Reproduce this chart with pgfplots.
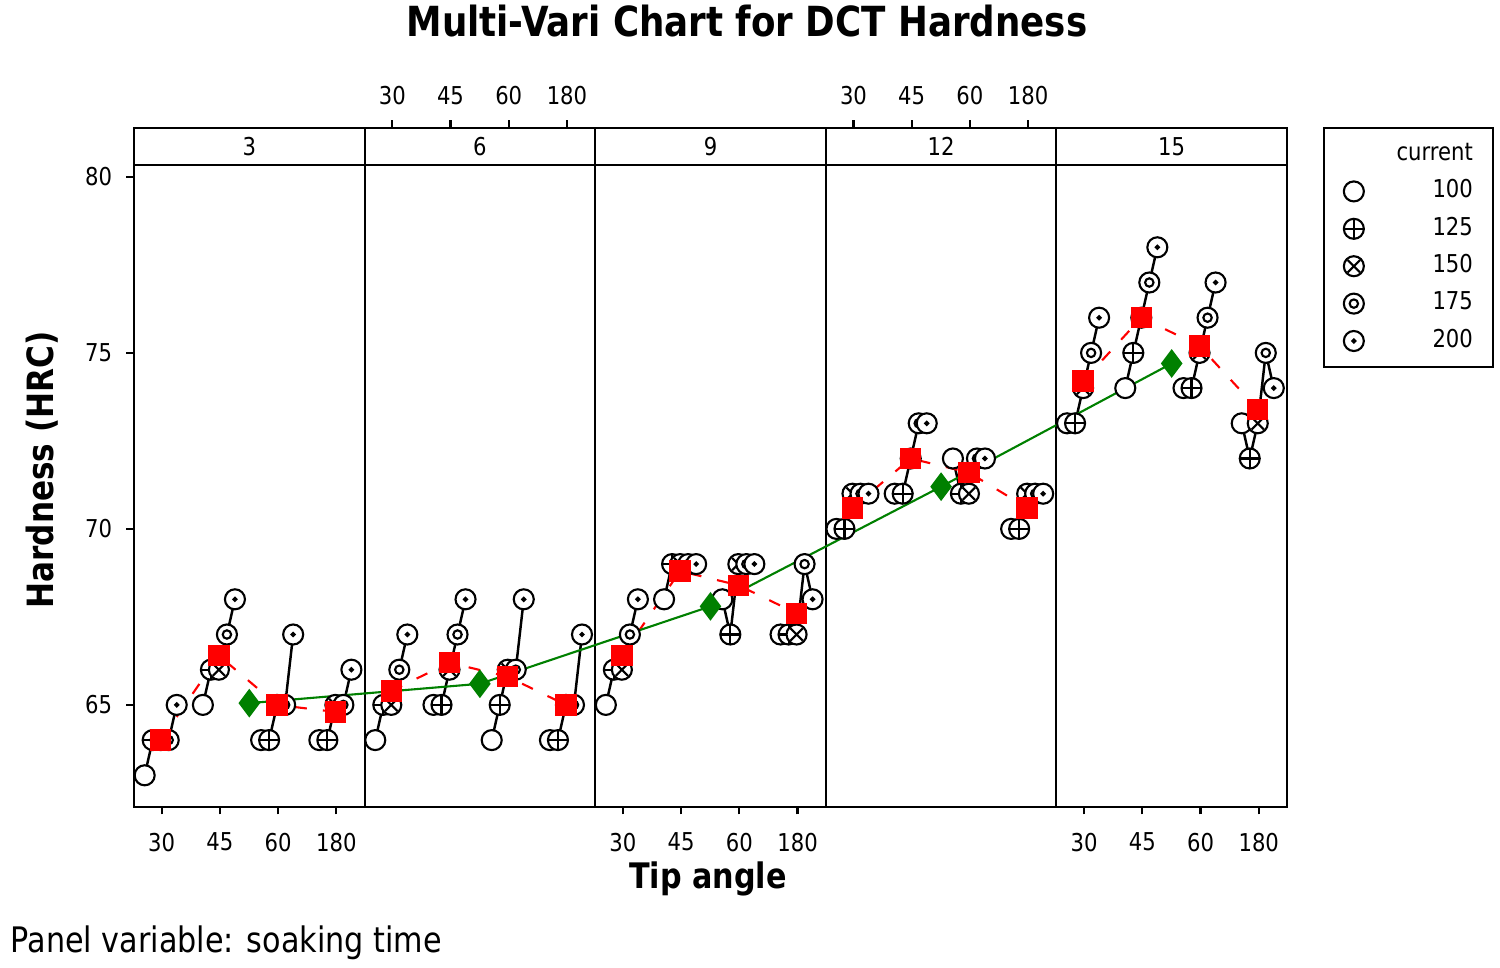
\documentclass[border=0pt]{standalone}
\usepackage{fontspec}
\setmainfont{DejaVu Sans}[FakeStretch=0.86]
\usepackage{pgfplots}
\usepackage{pgfplotstable}
\pgfplotsset{compat=1.18}

\pgfdeclareplotmark{m100}{%
  \pgfpathcircle{\pgfpointorigin}{\pgfplotmarksize}\pgfusepathqfillstroke}
\pgfdeclareplotmark{m125}{%
  \pgfpathcircle{\pgfpointorigin}{\pgfplotmarksize}\pgfusepathqfillstroke
  \pgfpathmoveto{\pgfqpoint{-\pgfplotmarksize}{0pt}}\pgfpathlineto{\pgfqpoint{\pgfplotmarksize}{0pt}}%
  \pgfpathmoveto{\pgfqpoint{0pt}{-\pgfplotmarksize}}\pgfpathlineto{\pgfqpoint{0pt}{\pgfplotmarksize}}%
  \pgfusepathqstroke}
\pgfdeclareplotmark{m150}{%
  \pgfpathcircle{\pgfpointorigin}{\pgfplotmarksize}\pgfusepathqfillstroke
  \pgfpathmoveto{\pgfqpoint{-0.62\pgfplotmarksize}{-0.62\pgfplotmarksize}}\pgfpathlineto{\pgfqpoint{0.62\pgfplotmarksize}{0.62\pgfplotmarksize}}%
  \pgfpathmoveto{\pgfqpoint{-0.62\pgfplotmarksize}{0.62\pgfplotmarksize}}\pgfpathlineto{\pgfqpoint{0.62\pgfplotmarksize}{-0.62\pgfplotmarksize}}%
  \pgfusepathqstroke}
\pgfdeclareplotmark{m175}{%
  \pgfpathcircle{\pgfpointorigin}{\pgfplotmarksize}\pgfusepathqfillstroke
  \pgfpathcircle{\pgfpointorigin}{0.42\pgfplotmarksize}\pgfusepathqstroke}
\pgfdeclareplotmark{m200}{%
  \pgfpathcircle{\pgfpointorigin}{\pgfplotmarksize}\pgfusepathqfillstroke
  \pgfpathcircle{\pgfpointorigin}{0.15\pgfplotmarksize}\pgfusepathqstroke}

% long table: panel p (soaking time 3,6,9,12,15 -> 0..4), tip t (30,45,60,180 -> 0..3), current c, hardness y
\pgfplotstableread{
p t c y
0 0 100 63
0 0 125 64
0 0 150 64
0 0 175 64
0 0 200 65
0 0 0 nan
0 1 100 65
0 1 125 66
0 1 150 66
0 1 175 67
0 1 200 68
0 1 0 nan
0 2 100 64
0 2 125 64
0 2 150 65
0 2 175 65
0 2 200 67
0 2 0 nan
0 3 100 64
0 3 125 64
0 3 150 65
0 3 175 65
0 3 200 66
0 3 0 nan
1 0 100 64
1 0 125 65
1 0 150 65
1 0 175 66
1 0 200 67
1 0 0 nan
1 1 100 65
1 1 125 65
1 1 150 66
1 1 175 67
1 1 200 68
1 1 0 nan
1 2 100 64
1 2 125 65
1 2 150 66
1 2 175 66
1 2 200 68
1 2 0 nan
1 3 100 64
1 3 125 64
1 3 150 65
1 3 175 65
1 3 200 67
1 3 0 nan
2 0 100 65
2 0 125 66
2 0 150 66
2 0 175 67
2 0 200 68
2 0 0 nan
2 1 100 68
2 1 125 69
2 1 150 69
2 1 175 69
2 1 200 69
2 1 0 nan
2 2 100 68
2 2 125 67
2 2 150 69
2 2 175 69
2 2 200 69
2 2 0 nan
2 3 100 67
2 3 125 67
2 3 150 67
2 3 175 69
2 3 200 68
2 3 0 nan
3 0 100 70
3 0 125 70
3 0 150 71
3 0 175 71
3 0 200 71
3 0 0 nan
3 1 100 71
3 1 125 71
3 1 150 72
3 1 175 73
3 1 200 73
3 1 0 nan
3 2 100 72
3 2 125 71
3 2 150 71
3 2 175 72
3 2 200 72
3 2 0 nan
3 3 100 70
3 3 125 70
3 3 150 71
3 3 175 71
3 3 200 71
3 3 0 nan
4 0 100 73
4 0 125 73
4 0 150 74
4 0 175 75
4 0 200 76
4 0 0 nan
4 1 100 74
4 1 125 75
4 1 150 76
4 1 175 77
4 1 200 78
4 1 0 nan
4 2 100 74
4 2 125 74
4 2 150 75
4 2 175 76
4 2 200 77
4 2 0 nan
4 3 100 73
4 3 125 72
4 3 150 73
4 3 175 75
4 3 200 74
}\hardness

% means per tip angle within each panel
\pgfplotstableread{
p t m
0 0 64.0
0 1 66.4
0 2 65.0
0 3 64.8
0 3 nan
1 0 65.4
1 1 66.2
1 2 65.8
1 3 65.0
1 3 nan
2 0 66.4
2 1 68.8
2 2 68.4
2 3 67.6
2 3 nan
3 0 70.6
3 1 72.0
3 2 71.6
3 3 70.6
3 3 nan
4 0 74.2
4 1 76.0
4 2 75.2
4 3 73.4
}\tipmeans

% panel means
\pgfplotstableread{
p m
0 65.05
1 65.6
2 67.8
3 71.2
4 74.7
}\panelmeans

\definecolor{mred}{RGB}{255,0,0}
\definecolor{mgreen}{RGB}{0,128,0}

\newcommand{\tfont}{\fontsize{7}{8}\selectfont}
\pgfplotsset{
  curmarks/.style={only marks, mark options={fill=white, draw=black, line width=0.6pt},
    restrict expr to domain={\thisrow{c}}{#1:#1}},
}

\begin{document}
\begin{tikzpicture}
\useasboundingbox (-1.34,-1.61) rectangle (13.66,8.07);

\begin{axis}[
  at={(0,0)}, anchor=south west,
  scale only axis, width=11.53cm, height=6.79cm,
  xmin=0, xmax=20, ymin=62.1, ymax=81.39,
  axis line style={line width=0.6pt},
  ytick={65,70,75,80},
  xtick={0.48,1.49,2.50,3.51,8.48,9.49,10.50,11.51,16.48,17.49,18.50,19.51},
  xticklabels={30,45,60,180,30,45,60,180,30,45,60,180},
  xtick pos=left, ytick pos=left,
  tick align=outside,
  major tick length=0.075cm,
  tick style={black, line width=0.6pt},
  ticklabel style={font=\tfont},
  /pgf/number format/assume math mode=true,
  xticklabel style={yshift=-0.06cm},
  yticklabel style={xshift=-0.02cm},
  legend style={at={(1.031,1.0015)}, anchor=north west, draw=black,
    line width=0.6pt, inner xsep=0.2cm, inner ysep=0.073cm, row sep=0pt,
    font=\tfont, nodes={inner sep=0pt, minimum height=0.374cm},
    /tikz/every even column/.append style={text width=0.87cm, align=right}},
  legend cell align=right,
  legend image code/.code={\path (0,0) (0.4cm,0); \draw[#1] plot coordinates {(0.09cm,0cm)};},
  mark size=2.85pt,
]
% panel dividers and strip
\draw[line width=0.6pt] (axis cs:4,62.1) -- (axis cs:4,81.39);
\draw[line width=0.6pt] (axis cs:8,62.1) -- (axis cs:8,81.39);
\draw[line width=0.6pt] (axis cs:12,62.1) -- (axis cs:12,81.39);
\draw[line width=0.6pt] (axis cs:16,62.1) -- (axis cs:16,81.39);
\draw[line width=0.6pt] (axis cs:0,80.34) -- (axis cs:20,80.34);
\node[font=\tfont] at (axis cs:2,80.87) {3};
\node[font=\tfont] at (axis cs:6,80.87) {6};
\node[font=\tfont] at (axis cs:10,80.87) {9};
\node[font=\tfont] at (axis cs:14,80.87) {12};
\node[font=\tfont] at (axis cs:18,80.87) {15};

% black lines connecting the current levels
\addplot[black, line width=0.7pt, mark=none, unbounded coords=jump, forget plot]
  table[x expr=4*\thisrow{p}+0.48+1.01*\thisrow{t}-0.295+0.00556*(\thisrow{c}-100), y=y] {\hardness};

\addlegendimage{empty legend}
\addlegendentry{current}

\addplot[curmarks=100, mark=m100]
  table[x expr=4*\thisrow{p}+0.48+1.01*\thisrow{t}-0.295+0.00556*(\thisrow{c}-100), y=y] {\hardness};
\addlegendentry{100}
\addplot[curmarks=125, mark=m125]
  table[x expr=4*\thisrow{p}+0.48+1.01*\thisrow{t}-0.295+0.00556*(\thisrow{c}-100), y=y] {\hardness};
\addlegendentry{125}
\addplot[curmarks=150, mark=m150]
  table[x expr=4*\thisrow{p}+0.48+1.01*\thisrow{t}-0.295+0.00556*(\thisrow{c}-100), y=y] {\hardness};
\addlegendentry{150}
\addplot[curmarks=175, mark=m175]
  table[x expr=4*\thisrow{p}+0.48+1.01*\thisrow{t}-0.295+0.00556*(\thisrow{c}-100), y=y] {\hardness};
\addlegendentry{175}
\addplot[curmarks=200, mark=m200]
  table[x expr=4*\thisrow{p}+0.48+1.01*\thisrow{t}-0.295+0.00556*(\thisrow{c}-100), y=y] {\hardness};
\addlegendentry{200}

% tip angle means
\addplot[mred, line width=0.6pt, dash pattern=on 3.4pt off 4.6pt, unbounded coords=jump,
  mark=square*, mark size=2.75pt, mark options={solid, fill=mred, draw=mred}, forget plot]
  table[x expr=4*\thisrow{p}+0.463+1.01*\thisrow{t}, y=m] {\tipmeans};

% panel means
\addplot[mgreen, line width=0.6pt, mark=diamond*, mark size=3.6pt,
  mark options={fill=mgreen, draw=mgreen}, forget plot]
  table[x expr=4*\thisrow{p}+2, y=m] {\panelmeans};
\end{axis}

% top ticks for panels 2 and 4
\begin{axis}[
  at={(0,0)}, anchor=south west,
  scale only axis, width=11.53cm, height=6.79cm,
  xmin=0, xmax=20, ymin=62.1, ymax=81.39,
  axis line style={draw=none},
  ytick=\empty,
  xtick={4.48,5.49,6.50,7.51,12.48,13.49,14.50,15.51},
  xticklabels={30,45,60,180,30,45,60,180},
  xtick pos=right, xticklabel pos=right,
  tick align=outside,
  major tick length=0.075cm,
  tick style={black, line width=0.6pt},
  ticklabel style={font=\tfont},
  xticklabel style={yshift=0.03cm},
]
\end{axis}

\node[font=\fontsize{11.8}{13}\selectfont\bfseries, anchor=base] at (6.13,7.70) {Multi-Vari Chart for DCT Hardness};
\node[font=\fontsize{10}{12}\selectfont\bfseries, anchor=base] at (5.74,-0.82) {Tip angle};
\node[font=\fontsize{10.3}{12}\selectfont\bfseries, anchor=base, rotate=90] at (-0.80,3.37) {Hardness (HRC)};
\node[font=\fontsize{10}{12}\selectfont, anchor=base west, inner sep=0pt] at (-1.24,-1.46) {Panel variable: soaking time};
\end{tikzpicture}
\end{document}
